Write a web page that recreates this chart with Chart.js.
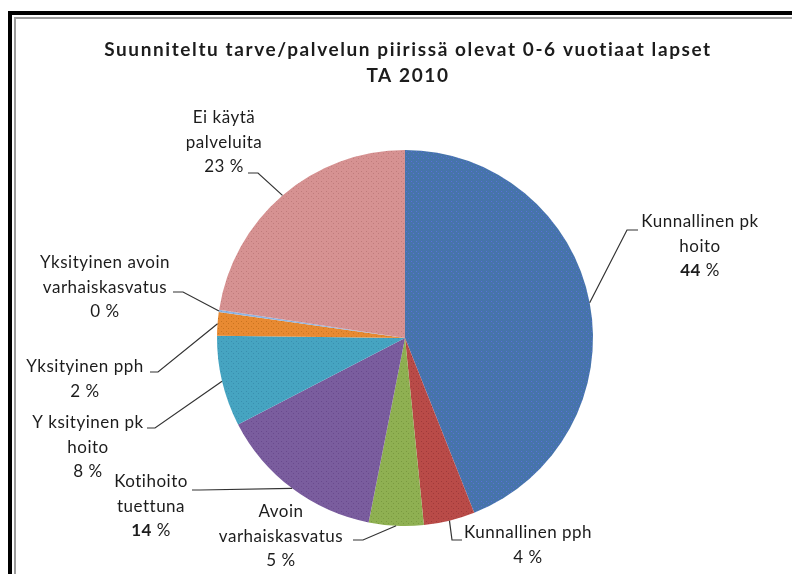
<!DOCTYPE html>
<html>
<head>
<meta charset="utf-8">
<script src="https://cdn.jsdelivr.net/npm/chart.js@4"></script>
<style>
  body { margin: 0; background: #fff; }
  #wrap { position: relative; width: 792px; height: 574px; overflow: hidden; }
  .frame1 { position: absolute; left: 8px; top: 11px; width: 900px; height: 700px;
            border-left: 4px solid #000; border-top: 4px solid #000; }
  .frame2 { position: absolute; left: 14px; top: 17px; width: 900px; height: 700px;
            border-left: 2px solid #9c9c9c; border-top: 2px solid #9c9c9c; }
  canvas { position: absolute; left: 0; top: 0; }
</style>
</head>
<body>
<div id="wrap">
  <div class="frame1"></div>
  <div class="frame2"></div>
  <canvas id="myChart" width="792" height="574"></canvas>
</div>
<script>
// data
const categories = ["Kunnallinen pk hoito", "Kunnallinen pph", "Avoin varhaiskasvatus",
  "Kotihoito tuettuna", "Yksityinen pk hoito", "Yksityinen pph",
  "Yksityinen avoin varhaiskasvatus", "Ei käytä palveluita"]
const shares = [44.0, 4.4, 4.7, 14.3, 7.8, 2.0, 0.2, 22.6]
const labelLines = [["Kunnallinen pk", "hoito"], ["Kunnallinen pph"], ["Avoin", "varhaiskasvatus"],
  ["Kotihoito", "tuettuna"], ["Y ksityinen pk", "hoito"], ["Yksityinen pph"],
  ["Yksityinen avoin", "varhaiskasvatus"], ["Ei käytä", "palveluita"]]
const titleLines = ["Suunniteltu tarve/palvelun piirissä olevat 0-6 vuotiaat lapset", "TA 2010"]

const colors = ["#4674aa", "#b94b48", "#8fb052", "#7a5d9e", "#46a4c1", "#e88a32", "#8fb4e3", "#d69292"]
const dotColors = ["#5a6fd8", "#a03a3a", "#7a9a40", "#6a4a8e", "#3a8fb0", "#c9741f", "#7aa0d0", "#c07c7c"]

// label placement: text centre x, first line y, elbow point, end of horizontal stub
const labelPos = [
  { x: 700, y: 222, ex: 627, ey: 230, hx: 638 },
  { x: 528, y: 533, ex: 452, ey: 540, hx: 462 },
  { x: 281, y: 512, ex: 363, ey: 540, hx: 353 },
  { x: 151, y: 482, ex: 200, ey: 490, hx: 192 },
  { x: 88,  y: 423, ex: 155, ey: 428, hx: 147 },
  { x: 85,  y: 367, ex: 158, ey: 372, hx: 150 },
  { x: 105, y: 263, ex: 183, ey: 292, hx: 173 },
  { x: 224, y: 118, ex: 258, ey: 173, hx: 248 }
]
const boldPct = [true, false, false, true, false, false, false, false]

// pisteinen kuvio kuten excelissä
function dotted(base, dot){
  const c = document.createElement("canvas")
  c.width = 5; c.height = 5
  const g = c.getContext("2d")
  g.fillStyle = base
  g.fillRect(0, 0, 5, 5)
  g.fillStyle = dot
  g.fillRect(1, 1, 1, 1)
  g.fillRect(3, 3, 1, 1)
  return g.createPattern(c, "repeat")
}
const fills = colors.map((c, i) => dotted(c, dotColors[i]))

const labelsPlugin = {
  id: "pieLabels",
  afterDraw(chart){
    const ctx = chart.ctx
    const arcs = chart.getDatasetMeta(0).data
    ctx.save()
    ctx.fillStyle = "#1c1c1c"
    ctx.textAlign = "center"
    ctx.textBaseline = "middle"
    ctx.font = "bold 19px Lato"
    ctx.letterSpacing = "1.6px"
    ctx.fillText(titleLines[0], 408, 50)
    ctx.fillText(titleLines[1], 408, 76)

    const lh = 24.5
    const f = "17px Lato"
    ctx.letterSpacing = "0.5px"
    arcs.forEach((arc, i) => {
      const p = labelPos[i]
      const mid = (arc.startAngle + arc.endAngle) / 2
      const ax = arc.x + Math.cos(mid) * arc.outerRadius
      const ay = arc.y + Math.sin(mid) * arc.outerRadius
      ctx.strokeStyle = "#333"
      ctx.lineWidth = 1.2
      ctx.beginPath()
      ctx.moveTo(ax, ay)
      ctx.lineTo(p.ex, p.ey)
      ctx.lineTo(p.hx, p.ey)
      ctx.stroke()

      ctx.textAlign = "center"
      ctx.font = f
      const lines = labelLines[i]
      lines.forEach((t, k) => ctx.fillText(t, p.x, p.y + k * lh))
      const num = String(Math.round(shares[i]))
      const py = p.y + lines.length * lh
      const nf = (boldPct[i] ? "bold " : "") + f
      ctx.font = nf
      const w1 = ctx.measureText(num).width
      ctx.font = f
      const w2 = ctx.measureText(" %").width
      const x0 = p.x - (w1 + w2) / 2
      ctx.textAlign = "left"
      ctx.font = nf
      ctx.fillText(num, x0, py)
      ctx.font = f
      ctx.fillText(" %", x0 + w1, py)
    })
    ctx.restore()
  }
}

const pie = new Chart("myChart", {
  type: "pie",
  data: {
    labels: categories,
    datasets: [{
      data: shares,
      backgroundColor: fills,
      borderWidth: 0,
      hoverOffset: 0,
      offset: 0
    }]
  },
  options: {
    responsive: false,
    animation: false,
    layout: { padding: { left: 217, right: 199, top: 150, bottom: 48 } },
    plugins: {
      legend: { display: false },
      tooltip: { enabled: false }
    }
  },
  plugins: [labelsPlugin]
})
</script>
</body>
</html>
